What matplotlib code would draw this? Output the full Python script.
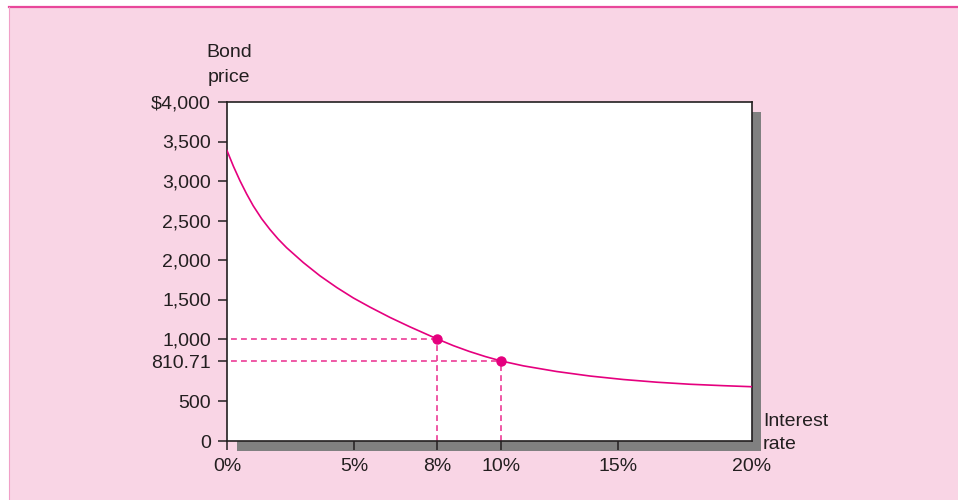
import numpy as np
import matplotlib
matplotlib.use("Agg")
import matplotlib.pyplot as plt
from matplotlib.patches import Rectangle
from matplotlib.lines import Line2D

plt.rcParams['font.family'] = ['Liberation Sans', 'DejaVu Sans']

# curve (interest rate in %, bond price in $)
rates = [0, 0.255, 0.51, 0.77, 1.03, 1.36, 1.69, 2.01, 2.34, 3, 3.65, 4.31, 4.96, 5.57, 6.29, 7.01, 8,
         8.5, 9, 9.5, 10, 10.95, 12.38, 13.81, 15.21, 16.46, 17.71, 18.95, 20]
prices = [3385, 3184, 3003, 2837, 2686, 2523, 2385, 2265, 2156, 1967, 1800, 1652, 1520, 1403, 1273, 1154, 1000,
          943, 893, 849, 810.71, 773, 729, 694, 667, 646, 630, 619, 611]

marked_rates = [8, 10]
marked_prices = [1000, 810.71]

xticks = [0, 5, 8, 10, 15, 20]
xlabels = ['0%', '5%', '8%', '10%', '15%', '20%']
yticks = [0, 500, 810.71, 1000, 1500, 2000, 2500, 3000, 3500, 4000]
ylabels = ['0', '500', '810.71', '1,000', '1,500', '2,000', '2,500', '3,000', '3,500', '$4,000']

# the drawing uses an uneven (hand spaced) axis on both sides
x_knots = [0, 5, 8, 10, 15, 20]
x_pos = [0, 127.3, 210.3, 274.3, 390.7, 524.5]
y_knots = [0, 500, 810.71, 1000, 4000]
y_pos = [0, 40, 80, 102, 339]

def fwd(k, p):
    return lambda v: np.interp(v, k, p)

def inv(k, p):
    return lambda v: np.interp(v, p, k)

pink = '#F9D5E5'
mag = '#E5007E'
dash_col = '#EC3C96'
txt = '#231F20'

W, H = 958, 500
fig = plt.figure(figsize=(W / 100, H / 100), dpi=100, facecolor='white')

# pink panel with the magenta rule on top
fig.patches.append(Rectangle((9 / W, 0), 1 - 9 / W, (H - 7) / H, transform=fig.transFigure,
                             facecolor=pink, edgecolor='none', zorder=-3))
fig.lines.append(Line2D([9 / W, 1], [(H - 7) / H] * 2, transform=fig.transFigure, color='#E8479A', lw=1.6))
fig.lines.append(Line2D([9 / W] * 2, [0, (H - 7) / H], transform=fig.transFigure, color='#F0A0C8', lw=0.8))

left, right, top, bottom = 227, 751.5, 102, 441
ax = fig.add_axes([left / W, (H - bottom) / H, (right - left) / W, (bottom - top) / H])

# drop shadow
fig.patches.append(Rectangle(((left + 9.5) / W, (H - bottom - 10) / H), (right - left) / W, (bottom - top) / H,
                             transform=fig.transFigure, facecolor='#808080', edgecolor='none', zorder=-1))

ax.set_xscale('function', functions=(fwd(x_knots, x_pos), inv(x_knots, x_pos)))
ax.set_yscale('function', functions=(fwd(y_knots, y_pos), inv(y_knots, y_pos)))
ax.set_xlim(0, 20)
ax.set_ylim(0, 4000)
ax.set_facecolor('white')

ax.plot(rates, prices, color=mag, lw=1.2, zorder=3, solid_joinstyle='round')
for r, p in zip(marked_rates, marked_prices):
    ax.plot([0.15, r], [p, p], color=dash_col, lw=1.2, dashes=(3.5, 2.5), zorder=2)
    ax.plot([r, r], [0, p], color=dash_col, lw=1.2, dashes=(3.5, 2.5), zorder=2)
ax.plot(marked_rates, marked_prices, 'o', color=mag, ms=6.5, zorder=4)

for s in ax.spines.values():
    s.set_color(txt)
    s.set_linewidth(1.2)

ax.set_xticks(xticks)
ax.set_xticklabels(xlabels)
ax.set_yticks(yticks)
ax.set_yticklabels(ylabels)
ax.xaxis.set_minor_locator(matplotlib.ticker.NullLocator())
ax.yaxis.set_minor_locator(matplotlib.ticker.NullLocator())
ax.tick_params(axis='both', direction='out', length=6.5, width=1.1, color=txt,
               labelcolor=txt, labelsize=14)
ax.tick_params(axis='x', pad=6)
ax.tick_params(axis='y', pad=5)
ax.xaxis.get_major_ticks()[-1].tick1line.set_visible(False)

fig.text(229 / W, 1 - 65 / H, 'Bond\nprice', ha='center', va='center', fontsize=14,
         color=txt, linespacing=1.55)
fig.text(763 / W, 1 - 433 / H, 'Interest\nrate', ha='left', va='center', fontsize=14,
         color=txt, linespacing=1.5)

fig.savefig('out.png', dpi=100, facecolor=fig.get_facecolor())
